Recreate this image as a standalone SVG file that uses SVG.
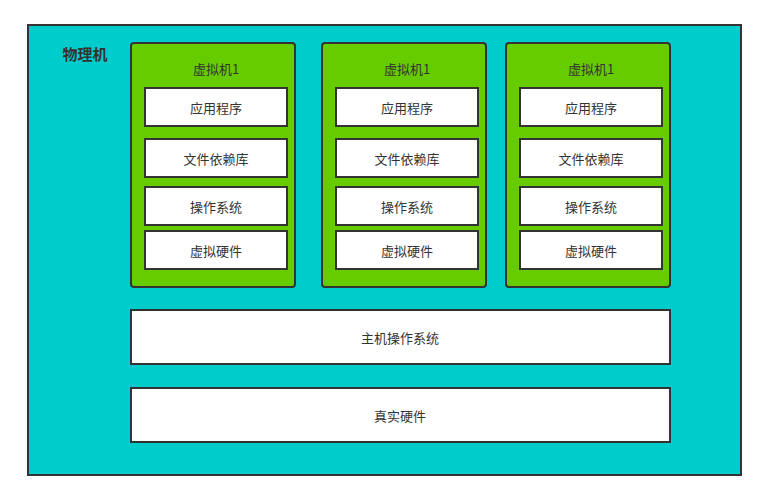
<svg xmlns="http://www.w3.org/2000/svg" width="766" height="500" viewBox="0 0 766 500">
<style>
text{font-family:"Noto Sans CJK SC","Noto Sans",sans-serif;font-size:13px;fill:#333;text-anchor:middle;dominant-baseline:central}
.vm{fill:#66CC00;stroke:#333;stroke-width:2}
.box{fill:#fff;stroke:#333;stroke-width:2}
</style>
<rect width="766" height="500" fill="#fff"/>
<g id="physical">
<rect x="28" y="25" width="713" height="450" fill="#00CCCC" stroke="#333" stroke-width="2"/>
<text x="85" y="53" style="font-weight:bold;font-size:15px">物理机</text>
</g>
<g id="vm1">
<rect class="vm" x="131" y="43" width="164" height="244" rx="3"/>
<text x="216" y="68">虚拟机1</text>
<rect class="box" x="145" y="88" width="142" height="38"/><text x="216" y="107">应用程序</text>
<rect class="box" x="145" y="139" width="142" height="38"/><text x="216" y="158">文件依赖库</text>
<rect class="box" x="145" y="187" width="142" height="38"/><text x="216" y="206">操作系统</text>
<rect class="box" x="145" y="231" width="142" height="38"/><text x="216" y="250">虚拟硬件</text>
</g>
<g id="vm2">
<rect class="vm" x="322" y="43" width="164" height="244" rx="3"/>
<text x="407" y="68">虚拟机1</text>
<rect class="box" x="336" y="88" width="142" height="38"/><text x="407" y="107">应用程序</text>
<rect class="box" x="336" y="139" width="142" height="38"/><text x="407" y="158">文件依赖库</text>
<rect class="box" x="336" y="187" width="142" height="38"/><text x="407" y="206">操作系统</text>
<rect class="box" x="336" y="231" width="142" height="38"/><text x="407" y="250">虚拟硬件</text>
</g>
<g id="vm3">
<rect class="vm" x="506" y="43" width="164" height="244" rx="3"/>
<text x="591" y="68">虚拟机1</text>
<rect class="box" x="520" y="88" width="142" height="38"/><text x="591" y="107">应用程序</text>
<rect class="box" x="520" y="139" width="142" height="38"/><text x="591" y="158">文件依赖库</text>
<rect class="box" x="520" y="187" width="142" height="38"/><text x="591" y="206">操作系统</text>
<rect class="box" x="520" y="231" width="142" height="38"/><text x="591" y="250">虚拟硬件</text>
</g>
<g id="hostos">
<rect class="box" x="131" y="310" width="539" height="54"/>
<text x="400" y="337">主机操作系统</text>
</g>
<g id="hardware">
<rect class="box" x="131" y="388" width="539" height="54"/>
<text x="400" y="415">真实硬件</text>
</g>
<g id="connectors"/>
</svg>
